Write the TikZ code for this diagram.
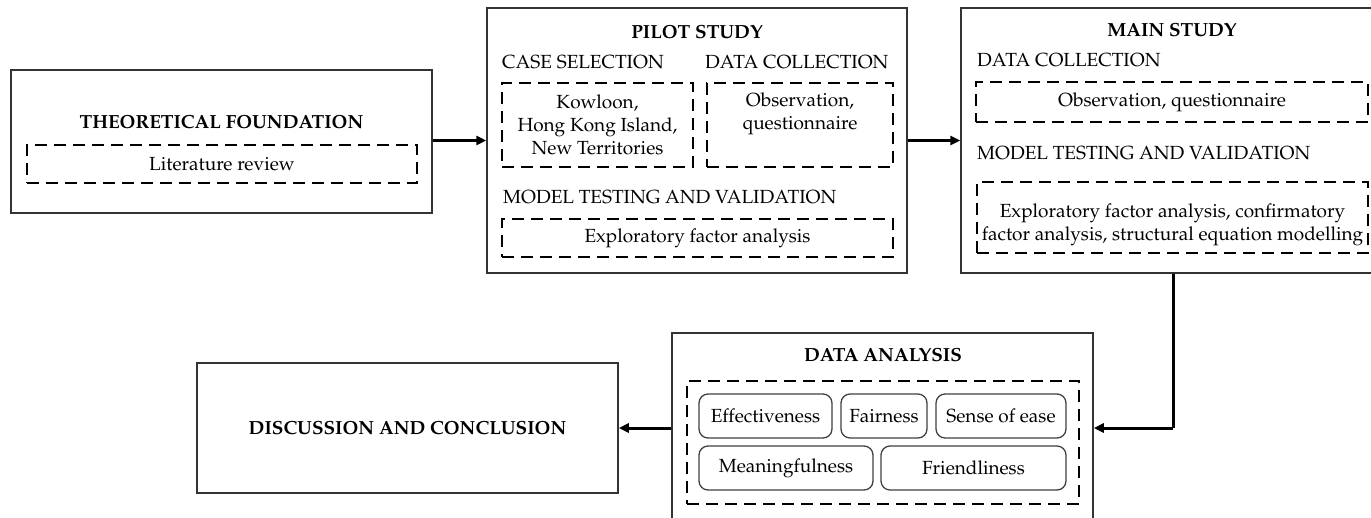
\documentclass[tikz,border=0pt]{standalone}
\usepackage[T1]{fontenc}
\usepackage{mathpazo}
\usetikzlibrary{arrows.meta}
\tikzset{
  outer/.style={draw=black!80, line width=1.5pt, inner sep=0pt},
  dbox/.style={draw=black, line width=2pt, dash pattern=on 12pt off 7pt, inner sep=0pt, align=center},
  rbox/.style={draw=black!75, line width=1.3pt, rounded corners=9pt, inner sep=0pt},
  txt/.style={inner sep=0pt, align=center},
  conn/.style={line width=3pt, -{Triangle[length=10pt,width=9pt]}},
  connline/.style={line width=3pt},
}
\begin{document}
\begin{tikzpicture}[x=1pt,y=-1pt, font=\fontsize{19}{23}\selectfont]
\useasboundingbox (0,0) rectangle (1371,517);
\clip (0,0) rectangle (1371,517);
% Theoretical foundation
\node[outer, minimum width=421pt, minimum height=143pt] (theo) at (221.5,141.5) {};
\node[txt, font=\fontsize{19}{23}\selectfont\bfseries] (theoT) at (221.5,122) {THEORETICAL FOUNDATION};
\node[dbox, minimum width=390pt, minimum height=38pt] (lit) at (222,164) {Literature review};
% Pilot study
\node[outer, minimum width=420pt, minimum height=265pt] (pilot) at (697,140.5) {};
\node[txt, font=\fontsize{19}{23}\selectfont\bfseries] (pilotT) at (697,32) {PILOT STUDY};
\node[txt, anchor=west] (caseL) at (502,62) {CASE SELECTION};
\node[txt, anchor=west] (dcL) at (705,62) {DATA COLLECTION};
\node[dbox, minimum width=191pt, minimum height=84pt] (case) at (597.5,125) {Kowloon,\\Hong Kong Island,\\New Territories};
\node[dbox, minimum width=186pt, minimum height=84pt] (dc) at (800,125) {};
\node[txt] (dcT) at (800,113.5) {Observation,\\questionnaire};
\node[txt, anchor=west] (mtL) at (503,197) {MODEL TESTING AND VALIDATION};
\node[dbox, minimum width=391pt, minimum height=38pt] (efa) at (697.5,238) {Exploratory factor analysis};
% Main study
\node[outer, minimum width=419pt, minimum height=265pt] (main) at (1170.5,140.5) {};
\node[txt, font=\fontsize{19}{23}\selectfont\bfseries] (mainT) at (1172,30) {MAIN STUDY};
\node[txt, anchor=west] (mdcL) at (977,60) {DATA COLLECTION};
\node[dbox, minimum width=392pt, minimum height=40pt] (mdc) at (1172,102) {Observation, questionnaire};
\node[txt, anchor=west] (mmtL) at (977,153) {MODEL TESTING AND VALIDATION};
\node[dbox, minimum width=391pt, minimum height=71pt] (mmt) at (1172.5,217.5) {};
\node[txt] (mmtT) at (1172.5,224.5) {Exploratory factor analysis, confirmatory\\factor analysis, structural equation modelling};
% Data analysis
\node[outer, minimum width=421pt, minimum height=197pt] (da) at (882.5,431.5) {};
\node[txt, font=\fontsize{19}{23}\selectfont\bfseries] (daT) at (883,355) {DATA ANALYSIS};
\node[dbox, minimum width=392pt, minimum height=123pt] (dad) at (883,442.5) {};
\node[rbox, minimum width=133pt, minimum height=44pt] (eff) at (765.5,416) {Effectiveness};
\node[rbox, minimum width=86pt, minimum height=44pt] (fair) at (884,416) {Fairness};
\node[rbox, minimum width=130pt, minimum height=44pt] (ease) at (1001,416) {Sense of ease};
\node[rbox, minimum width=174pt, minimum height=44pt] (mean) at (786,468) {Meaningfulness};
\node[rbox, minimum width=185pt, minimum height=44pt] (friend) at (973.5,468) {Friendliness};
% Discussion
\node[outer, minimum width=421pt, minimum height=130pt, font=\fontsize{19}{23}\selectfont\bfseries] (disc) at (407.5,428) {DISCUSSION AND CONCLUSION};
% Connectors
\draw[conn] (theo.east |- pilot.west) -- (pilot.west);
\draw[conn] (pilot.east) -- (main.west |- pilot.east);
\coordinate (bend) at (1173,428);
\draw[connline] (main.south -| bend) -- (bend);
\draw[conn] (bend) -- (da.east |- bend);
\draw[conn] (da.west |- disc.east) -- (disc.east);
\end{tikzpicture}
\end{document}
